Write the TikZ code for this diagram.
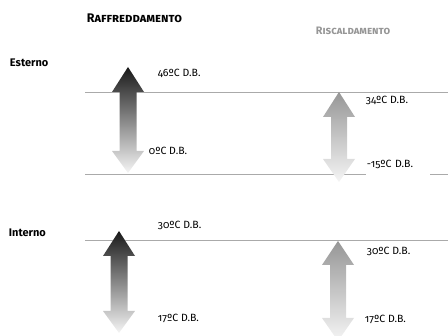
\documentclass[tikz,border=0pt]{standalone}
\usepackage{fontspec}
\setmainfont{Fira Sans}[Numbers=OldStyle]
\usepackage{tikz}
\usetikzlibrary{shadings}

\definecolor{lineg}{RGB}{170,170,170}
\definecolor{darktop}{RGB}{25,25,25}
\definecolor{midtop}{RGB}{150,150,150}
\definecolor{lowend}{RGB}{245,245,245}

\tikzset{
  temp/.style={anchor=west,inner sep=0.75pt,font=\fontsize{10.5}{12}\selectfont},
  hline/.style={draw=lineg,line width=0.8}
}

\begin{document}
\begin{tikzpicture}[x=1pt,y=1pt,yscale=-1,xscale=1]
%set diagram area 448 x 336
\useasboundingbox (0,0) rectangle (448,336);

%Straight Lines
\draw [hline] (85,92) -- (448,92) ;
\draw [hline] (85,174) -- (448,174) ;
\draw [hline] (85,240) -- (448,240) ;

%Shape: Arrow up-down (esterno, raffreddamento)
\shade [top color=darktop,bottom color=lowend] (128,67) -- (144,92) -- (136.5,92) -- (136.5,151) -- (144,151) -- (128,173) -- (112,151) -- (119.5,151) -- (119.5,92) -- (112,92) -- cycle ;
%Shape: Arrow up-down (esterno, riscaldamento)
\shade [top color=midtop,bottom color=lowend] (339,92) -- (355,117) -- (347,117) -- (347,159) -- (355,159) -- (339,182) -- (323,159) -- (331,159) -- (331,117) -- (323,117) -- cycle ;
%Shape: Arrow up-down (interno, raffreddamento)
\shade [top color=darktop,bottom color=lowend] (119,231) -- (135,256) -- (127.5,256) -- (127.5,311) -- (135,311) -- (119,333) -- (103,311) -- (110.5,311) -- (110.5,256) -- (103,256) -- cycle ;
%Shape: Arrow up-down (interno, riscaldamento)
\shade [top color=midtop,bottom color=lowend] (338,241) -- (354,265) -- (346,265) -- (346,318) -- (354,318) -- (338,341) -- (322,318) -- (330,318) -- (330,265) -- (322,265) -- cycle ;

% Text Node
\node (raff) [anchor=west,inner sep=0.75pt,font=\bfseries\fontsize{12.5}{14}\selectfont] at (86,18) {\textsc{Raffreddamento}};
% Text Node
\node (risc) [anchor=west,inner sep=0.75pt,text=midtop,font=\bfseries\fontsize{10.8}{12}\selectfont] at (315,31) {\textsc{Riscaldamento}};
% Text Node
\node (est) [anchor=west,inner sep=0.75pt,font=\bfseries\fontsize{11}{13}\selectfont] at (9,63) {Esterno};
% Text Node
\node (int) [anchor=west,inner sep=0.75pt,font=\bfseries\fontsize{11}{13}\selectfont] at (8,233) {Interno};

% Text Node
\node (eraffmax) [temp] at (157,73) {46ºC D.B.};
% Text Node
\node (eraffmin) [temp] at (148,151) {0ºC D.B.};
% Text Node
\node (eriscmax) [temp] at (365,100) {34ºC D.B.};
% Text Node
\node (eriscmin) [temp,fill=white,minimum height=22,text width=62,align=left] at (366,164) {-15ºC D.B.};
% Text Node
\node (iraffmax) [temp] at (157,225) {30ºC D.B.};
% Text Node
\node (iraffmin) [temp] at (157,318) {17ºC D.B.};
% Text Node
\node (iriscmax) [temp] at (366,251) {30ºC D.B.};
% Text Node
\node (iriscmin) [temp] at (364,319) {17ºC D.B.};

\end{tikzpicture}
\end{document}
